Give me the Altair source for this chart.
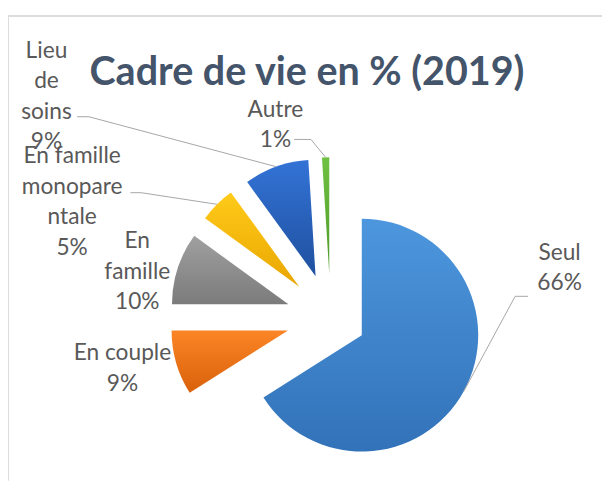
import altair as alt
import pandas as pd

# ---- data ----
TITLE = "Cadre de vie en % (2019)"
categories = ["Seul", "En couple", "En famille", "En famille monoparentale", "Lieu de soins", "Autre"]
values = [66, 9, 10, 5, 9, 1]
label_lines = ["Seul", "En couple", "En\nfamille", "En famille\nmonopare\nntale", "Lieu\nde\nsoins", "Autre"]

# ---- layout / style (page coordinates, converted to view coordinates below) ----
OX, OY = 8, 13            # view origin on the page
CX, CY = 335 - OX, 319 - OY
R = 118
explode = [36, 45, 45, 45, 45, 45]
label_pos = [(567, 260), (124, 362), (139, 248), (73, 162), (47, 55), (279, 115)]
leaders = [((535, 297), (522, 297)), None, None,
           ((132, 192), (143, 192)), ((78, 115), (90, 115)), ((298, 138), (315, 138))]
grads = [("#4d97de", "#3272b8"), ("#fb8526", "#d9610b"), ("#a0a0a0", "#7b7b7b"),
         ("#ffcb1a", "#e9a600"), ("#3373d6", "#1f509f"), ("#6fc142", "#4c9a28")]
FONT = "Lato"
LABEL_COLOR = "#595959"
LINE_COLOR = "#a6a6a6"
FRAME_COLOR = "#dddddd"

rows = []
for i, (c, v, ll) in enumerate(zip(categories, values, label_lines)):
    lead = leaders[i]
    rows.append({
        "cat": c, "value": v, "order": i,
        "label": f"{ll}\n{v}%",
        "explode": explode[i],
        "lx": label_pos[i][0] - OX, "ly": label_pos[i][1] - OY,
        "ax": (lead[0][0] - OX) if lead else None, "ay": (lead[0][1] - OY) if lead else None,
        "ex": (lead[1][0] - OX) if lead else None, "ey": (lead[1][1] - OY) if lead else None,
    })
df = pd.DataFrame(rows)

base = (
    alt.Chart(df)
    .transform_joinaggregate(total="sum(value)")
    .transform_window(cum="sum(value)", sort=[alt.SortField("order")], frame=[None, 0])
    .transform_calculate(
        t0="2*PI*(datum.cum-datum.value)/datum.total",
        t1="2*PI*datum.cum/datum.total",
    )
    .transform_calculate(mid="(datum.t0+datum.t1)/2")
    .transform_calculate(
        px=f"{CX}+datum.explode*sin(datum.mid)",
        py=f"{CY}-datum.explode*cos(datum.mid)",
    )
    .transform_calculate(
        ox=f"datum.px+{R}*sin(datum.mid)",
        oy=f"datum.py-{R}*cos(datum.mid)",
    )
)

X = lambda f: alt.X(f, scale=None, axis=None)
Y = lambda f: alt.Y(f, scale=None, axis=None)

layers = []
for i in range(len(categories)):
    top, bot = grads[i]
    fill = {"gradient": "linear", "x1": 0, "y1": 0, "x2": 0, "y2": 1,
            "stops": [{"offset": 0, "color": top}, {"offset": 1, "color": bot}]}
    layers.append(
        base.transform_filter(f"datum.order == {i}")
        .mark_arc(fill=fill, radius=R)
        .encode(theta=alt.Theta("t0:Q", scale=None), theta2="t1:Q",
                x=X("px:Q"), y=Y("py:Q"))
    )

lead_base = base.transform_filter("isValid(datum.ax)")
rule1 = lead_base.mark_rule(color=LINE_COLOR, strokeWidth=1).encode(
    x=X("ax:Q"), y=Y("ay:Q"), x2="ex:Q", y2="ey:Q")
rule2 = lead_base.mark_rule(color=LINE_COLOR, strokeWidth=1).encode(
    x=X("ex:Q"), y=Y("ey:Q"), x2="ox:Q", y2="oy:Q")

labels = base.mark_text(font=FONT, fontSize=23, color=LABEL_COLOR, lineBreak="\n",
                        lineHeight=31, align="center", baseline="alphabetic").encode(
    x=X("lx:Q"), y=Y("ly:Q"), text="label:N")

title = alt.Chart(pd.DataFrame({"t": [TITLE]})).mark_text(
    font=FONT, fontSize=40, fontWeight="bold", color="#44546A",
    align="center", baseline="alphabetic").encode(
    x=alt.value(311 - OX), y=alt.value(83 - OY), text="t:N")

# chart-area frame: only the top and left edges are visible in the reference
frame_src = alt.Chart(pd.DataFrame({"k": [0]}))
frame_top = frame_src.mark_rule(color=FRAME_COLOR, strokeWidth=2).encode(
    x=alt.value(0), x2=alt.value(602), y=alt.value(0))
frame_left = frame_src.mark_rule(color=FRAME_COLOR, strokeWidth=2).encode(
    x=alt.value(0), y=alt.value(0), y2=alt.value(471))

chart = (
    alt.layer(frame_top, frame_left, *layers, rule1, rule2, labels, title)
    .properties(width=602, height=471, autosize="none",
                padding={"left": 0, "top": 5, "right": 0, "bottom": 0})
    .configure_view(stroke=None)
)

chart.save("out.html", embed_options={"renderer": "svg", "actions": False})
